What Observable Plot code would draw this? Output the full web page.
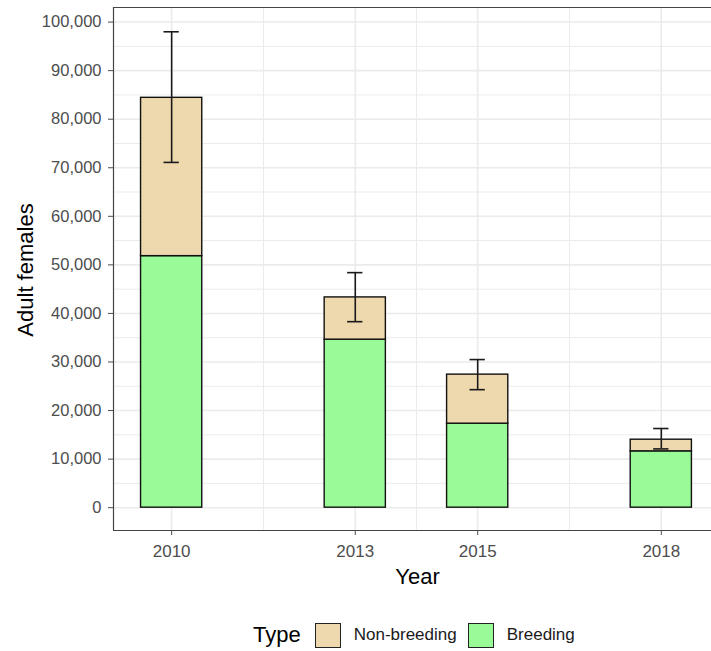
<!DOCTYPE html>
<html>
<head>
<meta charset="utf-8">
<script src="https://cdn.jsdelivr.net/npm/d3@7"></script>
<script src="https://cdn.jsdelivr.net/npm/@observablehq/plot@0.6"></script>
<style>
  body { margin: 0; background: white; font-family: "Liberation Sans", Arial, sans-serif; }
  #legend { position: relative; height: 51px; }
  .lg { position: absolute; display: flex; align-items: center; top: 22px; left: 253px; height: 26px; }
  .lg .title { font-size: 22px; color: #000; margin-right: 14px; }
  .lg .box { width: 24px; height: 23px; border: 1.6px solid #222; }
  .lg .lab { font-size: 17px; color: #1a1a1a; margin-left: 13px; margin-right: 11px; }
</style>
</head>
<body>
<div id="chart"></div>
<div id="legend"></div>
<script>
const years = [2010, 2013, 2015, 2018];
const breeding = [51800, 34600, 17300, 11600];
const nonBreeding = [32600, 8700, 10100, 2400];
const errLow = [71100, 38300, 24300, 12100];
const errHigh = [98000, 48400, 30500, 16300];
const types = ["Non-breeding", "Breeding"];
const typeColors = ["#EED8AE", "#98FB98"];
const xTicks = [2010, 2013, 2015, 2018];
const xMinor = [2011.5, 2014, 2016.5];
const yTicks = [0, 10000, 20000, 30000, 40000, 50000, 60000, 70000, 80000, 90000, 100000];
const yMinor = [5000, 15000, 25000, 35000, 45000, 55000, 65000, 75000, 85000, 95000];
const xDomain = [2009.05, 2018.82];
const yDomain = [-4700, 103000];

const rows = years.flatMap((yr, i) => [
  {year: yr, type: "Breeding", y1: 0, y2: breeding[i]},
  {year: yr, type: "Non-breeding", y1: breeding[i], y2: breeding[i] + nonBreeding[i]}
]);
const errs = years.map((yr, i) => ({year: yr, lo: errLow[i], hi: errHigh[i]}));

const chart = Plot.plot({
  width: 711,
  height: 600,
  marginLeft: 113,
  marginRight: 0,
  marginTop: 7,
  marginBottom: 70,
  style: {fontFamily: "Liberation Sans, Arial, sans-serif", background: "white", overflow: "hidden"},
  x: {type: "linear", domain: xDomain, axis: null},
  y: {domain: yDomain, axis: null},
  color: {domain: types, range: typeColors},
  marks: [
    Plot.gridY(yMinor, {stroke: "#ebebeb", strokeOpacity: 1, strokeWidth: 1}),
    Plot.gridX(xMinor, {stroke: "#ebebeb", strokeOpacity: 1, strokeWidth: 1}),
    Plot.gridY(yTicks, {stroke: "#ebebeb", strokeOpacity: 1, strokeWidth: 1.6}),
    Plot.gridX(xTicks, {stroke: "#ebebeb", strokeOpacity: 1, strokeWidth: 1.6}),
    Plot.rect(rows, {x1: d => d.year - 0.5, x2: d => d.year + 0.5, y1: "y1", y2: "y2", fill: "type", stroke: "#111", strokeWidth: 1.4}),
    Plot.ruleX(errs, {x: "year", y1: "lo", y2: "hi", stroke: "#1a1a1a", strokeWidth: 1.6}),
    Plot.ruleY(errs, {y: "lo", x1: d => d.year - 0.125, x2: d => d.year + 0.125, stroke: "#1a1a1a", strokeWidth: 1.6}),
    Plot.ruleY(errs, {y: "hi", x1: d => d.year - 0.125, x2: d => d.year + 0.125, stroke: "#1a1a1a", strokeWidth: 1.6}),
    Plot.ruleX([xDomain[0]], {stroke: "#444", strokeWidth: 1.2}),
    Plot.ruleY([yDomain[0], yDomain[1]], {stroke: "#444", strokeWidth: 1.2}),
    Plot.axisY({ticks: yTicks, tickFormat: d3.format(","), tickSize: 5, tickPadding: 7, fontSize: 16.5, color: "#4d4d4d", label: null}),
    Plot.axisX({ticks: xTicks, tickFormat: d => String(d), tickSize: 5, tickPadding: 9, fontSize: 17, color: "#4d4d4d", label: null}),
    Plot.text(["Year"], {frameAnchor: "bottom", dx: 5, dy: 53, fontSize: 22, fill: "black"}),
    Plot.text(["Adult females"], {frameAnchor: "left", textAnchor: "middle", dx: -88, dy: 1, rotate: -90, fontSize: 22, fill: "black"})
  ]
});
document.getElementById("chart").appendChild(chart);

const lg = document.createElement("div");
lg.className = "lg";
const t = document.createElement("span");
t.className = "title";
t.textContent = "Type";
lg.appendChild(t);
types.forEach((ty, i) => {
  const b = document.createElement("span");
  b.className = "box";
  b.style.background = typeColors[i];
  lg.appendChild(b);
  const l = document.createElement("span");
  l.className = "lab";
  l.textContent = ty;
  lg.appendChild(l);
});
document.getElementById("legend").appendChild(lg);
</script>
</body>
</html>
